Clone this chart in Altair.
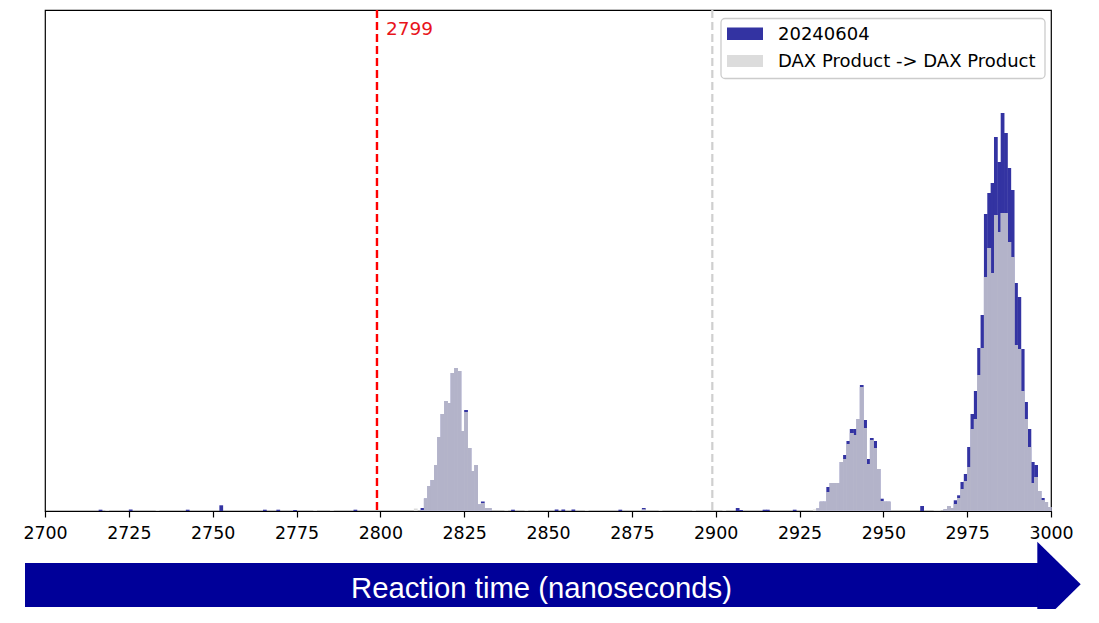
import altair as alt
import pandas as pd

# ---------------- data ----------------
# histogram bins of 1 ns (left edge), heights in arbitrary count units
series_names = ["20240604", "DAX Product -> DAX Product"]

blue_t = [2716, 2725, 2742, 2752, 2765, 2769, 2774, 2792,
          2812, 2813, 2814, 2815, 2816, 2817, 2818, 2819, 2820, 2821, 2822, 2823,
          2824, 2825, 2826, 2827, 2828, 2829, 2830, 2831, 2832,
          2839, 2852, 2854, 2857, 2871, 2878, 2906, 2907, 2914, 2915, 2923,
          2930, 2931, 2932, 2933, 2934, 2935, 2936, 2937, 2938, 2939, 2940, 2941,
          2942, 2943, 2944, 2945, 2946, 2947, 2948, 2949, 2950, 2951,
          2961,
          2968, 2969, 2970, 2971, 2972, 2973, 2974, 2975, 2976, 2977, 2978, 2979,
          2980, 2981, 2982, 2983, 2984, 2985, 2986, 2987, 2988, 2989, 2990, 2991,
          2992, 2993, 2994, 2995, 2996, 2997, 2998, 2999]
blue_h = [1.3, 1.5, 1.3, 5.7, 1.3, 1.3, 1.0, 1.3,
          3, 12.5, 25, 31, 46, 74, 97, 110, 108, 138, 143, 140,
          80, 101, 63, 40, 46, 6.5, 9.5, 3, 3,
          1.3, 1.5, 1.5, 1.5, 1.3, 3, 3, 1.0, 1.3, 1.3, 1.3,
          2.5, 9.3, 9.3, 24, 28, 28, 28, 49, 56, 70, 82, 82,
          92, 126, 91, 52, 73, 70, 42, 12.3, 9.3, 9.3,
          5,
          2, 5, 3, 10.7, 15.7, 29, 37, 64, 97, 120, 163, 196,
          297, 318, 328, 374, 349, 398, 378, 343, 321, 228, 214, 162,
          109, 82, 49, 46, 20, 13, 9, 4]

gray_t = [2718, 2733, 2780, 2785,
          2810, 2812, 2813, 2814, 2815, 2816, 2817, 2818, 2819, 2820, 2821, 2822, 2823,
          2824, 2825, 2826, 2827, 2828, 2829, 2830, 2831, 2832,
          2837, 2843, 2861, 2878, 2883, 2893, 2902,
          2929, 2930, 2931, 2932, 2933, 2934, 2935, 2936, 2937, 2938, 2939, 2940, 2941,
          2942, 2943, 2944, 2945, 2946, 2947, 2948, 2949, 2950, 2951,
          2965, 2966,
          2968, 2969, 2970, 2971, 2972, 2973, 2974, 2975, 2976, 2977, 2978, 2979,
          2980, 2981, 2982, 2983, 2984, 2985, 2986, 2987, 2988, 2989, 2990, 2991,
          2992, 2993, 2994, 2995, 2996, 2997, 2998, 2999]
gray_h = [1, 1, 1, 1,
          2.5, 1, 12.5, 25, 31, 46, 74, 97, 110, 108, 138, 143, 140,
          80, 99, 63, 40, 46, 6.5, 8, 3, 3,
          1, 1, 1, 1.5, 1, 1, 1,
          1.5, 2.5, 9.3, 9.3, 19, 28, 28, 28, 49, 52, 67, 78, 76,
          92, 124, 83, 47, 71, 63, 42, 10, 9.3, 9.3,
          1, 1,
          2, 5, 3, 6.7, 13, 22, 30, 44, 82, 92, 136, 163,
          234, 263, 238, 296, 279, 298, 298, 269, 254, 166, 162, 120,
          92, 64, 28, 34, 20, 10.7, 9, 4]

x_ticks = [2700, 2725, 2750, 2775, 2800, 2825, 2850, 2875, 2900, 2925, 2950, 2975, 3000]
x_domain = [2700, 3000]
y_domain = [0, 501]
marker_red = 2799
marker_gray = 2899
arrow_label = "Reaction time (nanoseconds)"

# colours: darkblue and lightgray drawn at alpha 0.8, pre-blended (opaque)
BLUE = "#3333a2"        # darkblue @0.8 over white
GRAY = "#dcdcdc"        # lightgray @0.8 over white
OVERLAP = "#b3b3c9"     # lightgray @0.8 over the blue
FONT = "DejaVu Sans"
BIN_DRAW = 1.12         # drawn width of a 1 ns bin (slight overlap hides seams)

blue_df = pd.DataFrame({"t": blue_t, "h": blue_h})
blue_df["t2"] = blue_df["t"] + BIN_DRAW
gray_df = pd.DataFrame({"t": gray_t, "h": gray_h})
gray_df["t2"] = gray_df["t"] + BIN_DRAW
ov_df = blue_df.merge(gray_df, on="t", suffixes=("_b", "_g"))
ov_df["h"] = ov_df[["h_b", "h_g"]].min(axis=1)
ov_df["t2"] = ov_df["t"] + BIN_DRAW
ov_df = ov_df[["t", "t2", "h"]]

xscale = alt.Scale(domain=x_domain, nice=False, zero=False)
yscale = alt.Scale(domain=y_domain, nice=False, zero=True)

xaxis = alt.Axis(values=x_ticks, format="d", title=None, grid=False,
                 labelFont=FONT, labelFontSize=17.4, labelColor="black",
                 tickColor="black", tickSize=6, tickWidth=1.2,
                 domainColor="black", domainWidth=1.2, labelPadding=7,
                 labelFlush=False)


def bars(df, colour):
    return alt.Chart(df).mark_rect(color=colour).encode(
        x=alt.X("t:Q", scale=xscale, axis=xaxis),
        x2="t2:Q",
        y=alt.Y("h:Q", scale=yscale, axis=None),
        y2=alt.datum(0),
    )


blue = bars(blue_df, BLUE)
gray = bars(gray_df, GRAY)
overlap = bars(ov_df, OVERLAP)

red_df = pd.DataFrame({"t": [marker_red], "label": [str(marker_red)]})
gray_line_df = pd.DataFrame({"t": [marker_gray]})

red_rule = alt.Chart(red_df).mark_rule(color="red", strokeWidth=2.4, strokeDash=[8, 4]).encode(
    x=alt.X("t:Q", scale=xscale, axis=xaxis))
gray_rule = alt.Chart(gray_line_df).mark_rule(color="#cfcfcf", strokeWidth=2.2, strokeDash=[8, 4]).encode(
    x=alt.X("t:Q", scale=xscale, axis=xaxis))
red_text = alt.Chart(red_df).mark_text(color="#e8141b", font=FONT, fontSize=18.5,
                                       align="left", baseline="middle", dx=9).encode(
    x=alt.X("t:Q", scale=xscale, axis=xaxis), y=alt.value(18.5), text="label:N")

# ---------------- legend (drawn manually) ----------------
one = pd.DataFrame({"k": [0]})
leg_frame = alt.Chart(one).mark_rect(fill="white", fillOpacity=0.85, stroke="#cccccc",
                                     strokeWidth=1.3, cornerRadius=4).encode(
    x=alt.value(676), x2=alt.value(1000), y=alt.value(8.5), y2=alt.value(68.5))
leg_p1 = alt.Chart(one).mark_rect(color=BLUE).encode(
    x=alt.value(682), x2=alt.value(718), y=alt.value(17.5), y2=alt.value(30))
leg_p2 = alt.Chart(one).mark_rect(color=GRAY).encode(
    x=alt.value(682), x2=alt.value(718), y=alt.value(45), y2=alt.value(57))
leg_t1 = alt.Chart(pd.DataFrame({"name": [series_names[0]]})).mark_text(
    font=FONT, fontSize=18, color="black", align="left", baseline="middle").encode(
    x=alt.value(733), y=alt.value(24.5), text="name:N")
leg_t2 = alt.Chart(pd.DataFrame({"name": [series_names[1]]})).mark_text(
    font=FONT, fontSize=18, color="black", align="left", baseline="middle").encode(
    x=alt.value(733), y=alt.value(51.5), text="name:N")

# ---------------- big arrow below the axis ----------------
ARROW = "#000099"
arrow_body = alt.Chart(one).mark_rect(color=ARROW).encode(
    x=alt.value(-20), x2=alt.value(993), y=alt.value(553), y2=alt.value(597))
arrow_head = alt.Chart(one).mark_point(
    shape="M-1,-1.963L1,0L-1,1.963Z", filled=True, color=ARROW, opacity=1,
    size=1884, strokeWidth=0).encode(
    x=alt.value(1014), y=alt.value(574.3))
arrow_text = alt.Chart(pd.DataFrame({"label": [arrow_label]})).mark_text(
    font="Liberation Sans", fontSize=29.3, color="white", align="center",
    baseline="alphabetic").encode(
    x=alt.value(496.5), y=alt.value(587.5), text="label:N")

chart = alt.layer(
    blue, gray, overlap, red_rule, gray_rule, red_text,
    leg_frame, leg_p1, leg_p2, leg_t1, leg_t2,
    arrow_body, arrow_head, arrow_text,
).properties(
    width=1006, height=501,
    autosize=alt.AutoSizeParams(type="none"),
    padding={"left": 37, "top": 2, "right": 33, "bottom": 98},
    background="white",
).configure_view(
    stroke="black", strokeWidth=1.2
)

chart.save("out.html", embed_options={"renderer": "svg", "actions": False})
